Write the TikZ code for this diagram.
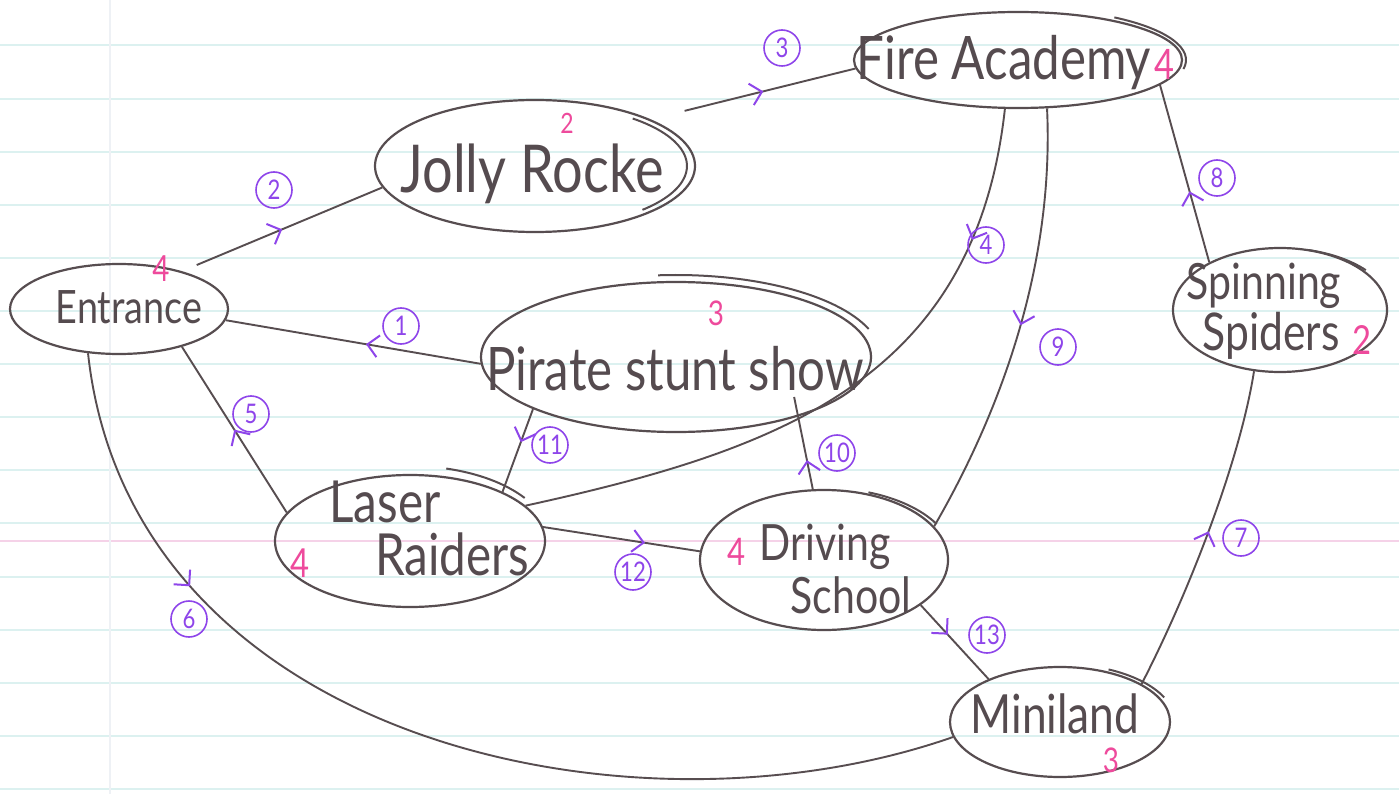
\documentclass[tikz,border=0pt]{standalone}
\usepackage{fontspec}
\setmainfont{Lato}[FakeStretch=0.82]
\usetikzlibrary{shapes.geometric, arrows.meta, decorations.markings, calc}

\definecolor{ink}{HTML}{574D50}
\definecolor{inktext}{HTML}{554B4F}
\definecolor{rose}{HTML}{EE4A9C}
\definecolor{vio}{HTML}{8E45EA}
\definecolor{ruleline}{HTML}{DCF1F0}
\definecolor{marginline}{HTML}{F5D2E8}
\definecolor{faintline}{HTML}{EEF1F5}

\newcommand{\handsize}[1]{\fontsize{#1}{#1}\selectfont}

\tikzset{
  place/.style={ellipse, draw=ink, line width=2.2pt, inner sep=0pt},
  hand/.style={text=inktext, inner sep=0pt, anchor=base},
  count/.style={text=rose, inner sep=0pt, anchor=base},
  num/.style={circle, draw=vio, text=vio, line width=1.6pt, inner sep=1pt,
              minimum size=36pt, font=\handsize{27}},
  edge/.style={draw=ink, line width=1.9pt},
  overshoot/.style={draw=ink, line width=2pt},
  flowtick/.style={postaction={decorate},
    decoration={markings, mark=at position #1 with
      {\arrow{Straight Barb[color=vio, length=11pt, width=22pt, line width=2pt]}}}},
}

\begin{document}
\begin{tikzpicture}[x=1pt, y=-1pt]
  % paper
  \fill[white] (0,0) rectangle (1399,794);
  \useasboundingbox (0,0) rectangle (1399,794);
  \foreach \k in {0,...,14}
    \draw[ruleline, line width=2pt] (0,{45.5+53.1*\k}) -- (1399,{45.5+53.1*\k});
  \draw[marginline, line width=1.5pt] (0,541) -- (1399,541);
  \draw[faintline, line width=1.5pt] (110,0) -- (110,794);

  % attractions
  \node[place, minimum width=218pt, minimum height=90pt]  (entr)    at (119,309)  {};
  \node[place, minimum width=320pt, minimum height=132pt] (jolly)   at (535,166)  {};
  \node[place, minimum width=328pt, minimum height=96pt]  (fire)    at (1018,60)  {};
  \node[place, minimum width=390pt, minimum height=150pt] (pirate)  at (676,357)  {};
  \node[place, minimum width=214pt, minimum height=124pt] (spin)    at (1280,310) {};
  \node[place, minimum width=270pt, minimum height=132pt] (laser)   at (410,541)  {};
  \node[place, minimum width=248pt, minimum height=140pt] (driving) at (824,560)  {};
  \node[place, minimum width=220pt, minimum height=110pt] (mini)    at (1060,722) {};

  % overlapping pen strokes where the ovals were closed
  \draw[overshoot] ($(jolly.center)+(-50:152 and 62)$) arc[start angle=-50, end angle=45, x radius=152, y radius=62];
  \draw[overshoot] ($(fire.center)+(-55:168 and 52)$) arc[start angle=-55, end angle=10, x radius=168, y radius=52];
  \draw[overshoot] ($(pirate.center)+(-95:205 and 82)$) arc[start angle=-95, end angle=-20, x radius=205, y radius=82];
  \draw[overshoot] ($(spin.center)+(-75:112 and 62)$) arc[start angle=-75, end angle=-40, x radius=112, y radius=62];
  \draw[overshoot] ($(laser.center)+(-75:140 and 75)$) arc[start angle=-75, end angle=-35, x radius=140, y radius=75];
  \draw[overshoot] ($(driving.center)+(-70:130 and 72)$) arc[start angle=-70, end angle=-30, x radius=130, y radius=72];
  \draw[overshoot] ($(mini.center)+(-65:115 and 58)$) arc[start angle=-65, end angle=-25, x radius=115, y radius=58];

  % names
  \node[hand, font=\handsize{46}] (entr-t)    at (129,323)  {Entrance};
  \node[hand, font=\handsize{66}] (jolly-t)   at (532,193)  {Jolly Rocke};
  \node[hand, font=\handsize{60}] (fire-t)    at (1004,80)  {Fire Academy};
  \node[hand, font=\handsize{60}] (pirate-t)  at (675,390)  {Pirate stunt show};
  \node[hand, font=\handsize{50}] (spin-t1)   at (1264,299) {Spinning};
  \node[hand, font=\handsize{52}] (spin-t2)   at (1271,350) {Spiders};
  \node[hand, font=\handsize{58}] (laser-t1)  at (385,522)  {Laser};
  \node[hand, font=\handsize{58}] (laser-t2)  at (452,575)  {Raiders};
  \node[hand, font=\handsize{50}] (driving-t1) at (825,560) {Driving};
  \node[hand, font=\handsize{50}] (driving-t2) at (851,613) {School};
  \node[hand, font=\handsize{54}] (mini-t)    at (1055,733) {Miniland};

  % counts
  \node[count, font=\handsize{36}] (entr-c)    at (161,281)  {4};
  \node[count, font=\handsize{28}] (jolly-c)   at (567,134)  {2};
  \node[count, font=\handsize{42}] (fire-c)    at (1164,80)  {4};
  \node[count, font=\handsize{34}] (pirate-c)  at (716,325)  {3};
  \node[count, font=\handsize{40}] (spin-c)    at (1362,354) {2};
  \node[count, font=\handsize{40}] (laser-c)   at (300,577)  {4};
  \node[count, font=\handsize{38}] (driving-c) at (737,565)  {4};
  \node[count, font=\handsize{34}] (mini-c)    at (1111,772) {3};

  % paths between attractions
  \draw[edge, flowtick=0.45] (pirate.182) -- (entr.-6);
  \draw[edge, flowtick=0.5, shorten <=16pt] (entr.31) -- (jolly.188);
  \draw[edge, flowtick=0.55, shorten <=35pt] (jolly.22) -- (fire.183);
  \draw[edge, flowtick=0.2] (fire.255) .. controls (975,380) and (780,450) .. (laser.17);
  \draw[edge, flowtick=0.5] (laser.167) -- (entr.329);
  \draw[edge, flowtick=0.24] (entr.235) .. controls (130,740) and (630,850) .. (mini.188);
  \draw[edge, flowtick=0.5] (mini.25) .. controls (1190,590) and (1240,460) .. (spin.247);
  \draw[edge, flowtick=0.4] (spin.146) -- (fire.350);
  \draw[edge, flowtick=0.5] (fire.301) .. controls (1055,280) and (990,430) .. (driving.17);
  \draw[edge, flowtick=0.4, shorten >=-20pt] (driving.99) -- (pirate.334);
  \draw[edge, flowtick=0.4] (pirate.200) -- (laser.28);
  \draw[edge, flowtick=0.65] (laser.6) -- (driving.176);
  \draw[edge, flowtick=0.4] (driving.335) -- (mini.149);

  % path numbers
  \node[num] (n1)  at (401,326)  {1};
  \node[num] (n2)  at (274,190)  {2};
  \node[num] (n3)  at (782,48)   {3};
  \node[num] (n4)  at (986,245)  {4};
  \node[num] (n5)  at (251,414)  {5};
  \node[num] (n6)  at (189,619)  {6};
  \node[num] (n7)  at (1241,538) {7};
  \node[num] (n8)  at (1217,178) {8};
  \node[num] (n9)  at (1058,347) {9};
  \node[num] (n10) at (837,453)  {10};
  \node[num] (n11) at (550,445)  {11};
  \node[num] (n12) at (633,572)  {12};
  \node[num] (n13) at (987,635)  {13};
\end{tikzpicture}
\end{document}
